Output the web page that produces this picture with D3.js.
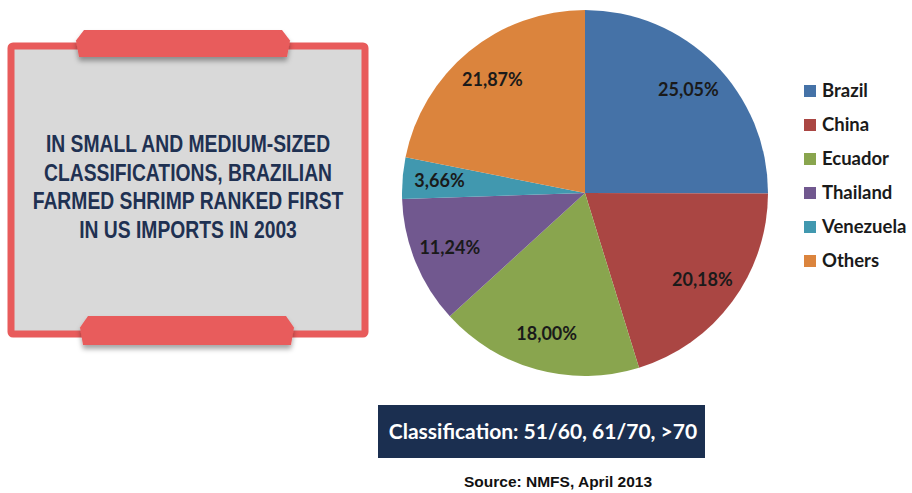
<!DOCTYPE html>
<html lang="en">
<head>
<meta charset="utf-8" />
<title>Shrimp imports pie</title>
<script src="https://d3js.org/d3.v7.min.js"></script>
<style>
  body { margin: 0; background: #fff; }
</style>
</head>
<body>
<div id="root"></div>
<script>
const countries = ["Brazil", "China", "Ecuador", "Thailand", "Venezuela", "Others"];
const shares = [25.05, 20.18, 18.00, 11.24, 3.66, 21.87];
const shareLabels = ["25,05%", "20,18%", "18,00%", "11,24%", "3,66%", "21,87%"];
const colors = ["#4572a7", "#aa4643", "#89a54e", "#71588f", "#4198af", "#db843d"];
const headline = ["IN SMALL AND MEDIUM-SIZED", "CLASSIFICATIONS, BRAZILIAN", "FARMED SHRIMP RANKED FIRST", "IN US IMPORTS IN 2003"];

const width = 912, height = 493;
const cx = 585, cy = 193, radius = 183;

const svg = d3.select("#root").append("svg")
    .attr("width", width)
    .attr("height", height)
    .attr("viewBox", [0, 0, width, height]);

const defs = svg.append("defs");
const shadow = defs.append("filter").attr("id", "shadow")
    .attr("x", "-10%").attr("y", "-30%").attr("width", "120%").attr("height", "180%");
shadow.append("feDropShadow")
    .attr("dx", 0).attr("dy", 4).attr("stdDeviation", 2.5)
    .attr("flood-color", "#000").attr("flood-opacity", 0.35);

// left panel
const panel = svg.append("g");
panel.append("rect")
    .attr("x", 11).attr("y", 46)
    .attr("width", 354).attr("height", 288)
    .attr("rx", 2)
    .attr("fill", "#d9d9d9")
    .attr("stroke", "#e85b5b")
    .attr("stroke-width", 7);

// tabs (chamfered ribbons)
function tab(x0, x1, y0, y1) {
  const c = 8, m = (y0 + y1) / 2;
  return `M${x0 + c},${y0} L${x1 - c},${y0} L${x1},${m - 3} L${x1 - 3},${y1} L${x0 + 3},${y1} L${x0},${m - 3} Z`;
}
panel.append("path")
    .attr("d", tab(76, 290, 30, 57))
    .attr("fill", "#e85b5b")
    .attr("filter", "url(#shadow)");
panel.append("path")
    .attr("d", tab(80, 294, 316, 345))
    .attr("fill", "#e85b5b")
    .attr("filter", "url(#shadow)");

// narrow-looking headline: regular sans squeezed horizontally
panel.append("g")
    .attr("font-family", "'Liberation Sans Narrow', 'Arial Narrow', 'Liberation Sans', sans-serif")
    .attr("font-weight", "bold")
    .attr("font-size", 23)
    .attr("fill", "#1f3152")
    .attr("text-anchor", "middle")
  .selectAll("text")
  .data(headline)
  .join("text")
    .attr("transform", (d, i) => `translate(188,${152 + i * 28.5}) scale(0.84,1)`)
    .text(d => d);

// pie
const pie = d3.pie().sort(null).value(d => d.value)
    .startAngle(0).endAngle(2 * Math.PI);
const data = countries.map((c, i) => ({ name: c, value: shares[i], label: shareLabels[i], color: colors[i] }));
const arcs = pie(data);
const arc = d3.arc().innerRadius(0).outerRadius(radius);
const labelArc = d3.arc().innerRadius(146).outerRadius(146);

const pieG = svg.append("g").attr("transform", `translate(${cx},${cy})`);
pieG.selectAll("path")
  .data(arcs)
  .join("path")
    .attr("d", arc)
    .attr("fill", d => d.data.color);

pieG.selectAll("text")
  .data(arcs)
  .join("text")
    .attr("transform", d => `translate(${labelArc.centroid(d)})`)
    .attr("text-anchor", "middle")
    .attr("dy", "0.35em")
    .attr("font-family", "Lato, 'Open Sans', sans-serif")
    .attr("font-weight", "bold")
    .attr("font-size", 18)
    .attr("fill", "#1a1a1a")
    .text(d => d.data.label);

// legend
const legend = svg.append("g")
    .attr("font-family", "Lato, 'Open Sans', sans-serif")
    .attr("font-weight", "bold")
    .attr("font-size", 18.5)
    .attr("fill", "#1a1a1a")
  .selectAll("g")
  .data(data)
  .join("g")
    .attr("transform", (d, i) => `translate(804,${91 + i * 34})`);
legend.append("rect")
    .attr("y", -6).attr("width", 12).attr("height", 12)
    .attr("fill", d => d.color);
legend.append("text")
    .attr("x", 18)
    .attr("dy", "0.35em")
    .text(d => d.name);

// classification banner
svg.append("rect")
    .attr("x", 378).attr("y", 405)
    .attr("width", 327).attr("height", 53)
    .attr("fill", "#1b2f50");
svg.append("text")
    .attr("x", 543).attr("y", 432)
    .attr("dy", "0.35em")
    .attr("text-anchor", "middle")
    .attr("font-family", "Lato, 'Open Sans', sans-serif")
    .attr("font-weight", "bold")
    .attr("font-size", 21)
    .attr("fill", "#fff")
    .text("Classification: 51/60, 61/70, >70");

svg.append("text")
    .attr("x", 558).attr("y", 482)
    .attr("dy", "0.35em")
    .attr("text-anchor", "middle")
    .attr("font-family", "'Liberation Sans', Arial, sans-serif")
    .attr("font-weight", "bold")
    .attr("font-size", 15.5)
    .attr("fill", "#111")
    .text("Source: NMFS, April 2013");
</script>
</body>
</html>
